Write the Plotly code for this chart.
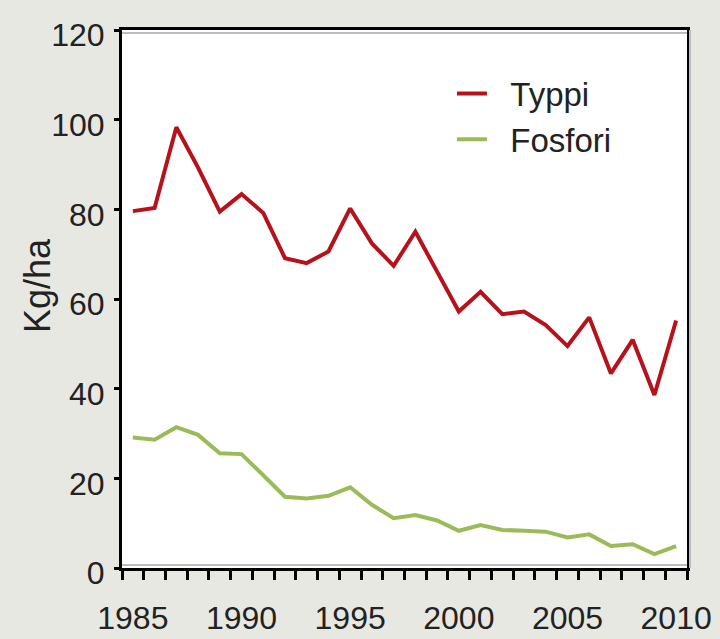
import plotly.graph_objects as go

years = list(range(1985, 2011))
typpi = [79.6, 80.3, 98.3, 89.3, 79.5, 83.4, 79.2, 69.1, 68.0, 70.6,
         80.2, 72.4, 67.4, 75.0, 66.1, 57.2, 61.6, 56.6, 57.2, 54.2,
         49.5, 55.9, 43.4, 50.9, 38.6, 55.2]
fosfori = [29.1, 28.6, 31.4, 29.7, 25.6, 25.4, 20.7, 15.9, 15.5, 16.1,
           18.0, 14.1, 11.1, 11.8, 10.6, 8.3, 9.6, 8.5, 8.3, 8.1,
           6.8, 7.5, 4.9, 5.3, 3.1, 4.9]
x_labels = [1985, 1990, 1995, 2000, 2005, 2010]
y_ticks = [0, 20, 40, 60, 80, 100, 120]

font_main = "Liberation Sans, Arial"
bg = "#e8e8e3"
txt = "#222222"
shadow = "#bdbdbd"

fig = go.Figure()
fig.add_trace(go.Scatter(x=years, y=typpi, mode="lines", name="\u00a0\u00a0Typpi",
                         line=dict(color="#b5121b", width=4)))
fig.add_trace(go.Scatter(x=years, y=fosfori, mode="lines", name="\u00a0\u00a0Fosfori",
                         line=dict(color="#9bbb59", width=4)))

# grey shadow lines along the frame
fig.add_shape(type="line", xref="paper", yref="paper", x0=0, x1=1,
              ysizemode="pixel", yanchor=1, y0=-3, y1=-3,
              line=dict(color=shadow, width=2), layer="above")
fig.add_shape(type="line", xref="paper", yref="paper", x0=0, x1=1,
              ysizemode="pixel", yanchor=0, y0=3, y1=3,
              line=dict(color=shadow, width=2), layer="above")
fig.add_shape(type="line", xref="paper", yref="paper", y0=0, y1=1,
              xsizemode="pixel", xanchor=1, x0=3, x1=3,
              line=dict(color=shadow, width=2), layer="above")

fig.update_layout(
    width=720, height=639,
    paper_bgcolor=bg, plot_bgcolor="white",
    font=dict(family=font_main, size=32, color=txt),
    margin=dict(l=122, r=33, t=30, b=71, pad=0, autoexpand=False),
    showlegend=True,
    legend=dict(x=0.584, y=0.934, xanchor="left", yanchor="top",
                bgcolor="rgba(0,0,0,0)", font=dict(size=33, color=txt),
                tracegroupgap=0, itemwidth=30),
    xaxis=dict(
        range=[1984.5, 2010.5], tickmode="array", tickvals=x_labels,
        ticks="", showgrid=False, zeroline=False, automargin=False,
        showline=True, linecolor="black", linewidth=3, mirror=True,
        ticklabelstandoff=20,
        minor=dict(ticks="outside", tick0=1984.5, dtick=1, ticklen=9,
                   tickwidth=3, tickcolor="black", showgrid=False),
    ),
    yaxis=dict(
        range=[0, 120], tickmode="array", tickvals=y_ticks,
        ticks="outside", ticklen=5, tickwidth=3, tickcolor="black",
        showgrid=False, zeroline=False, automargin=False,
        showline=True, linecolor="black", linewidth=3, mirror=True,
        ticklabelstandoff=3, ticklabelshift=5,
    ),
    annotations=[dict(text="Kg/ha", textangle=-90, xref="paper", yref="paper",
                      x=(37 - 122) / 565, y=0.524, xanchor="center", yanchor="middle",
                      showarrow=False, font=dict(family=font_main, size=36, color=txt))],
)

fig.write_html("out.html", config={"displayModeBar": False},
               post_script="document.body.style.margin='0';"
                           "document.body.style.background='#e8e8e3';")
